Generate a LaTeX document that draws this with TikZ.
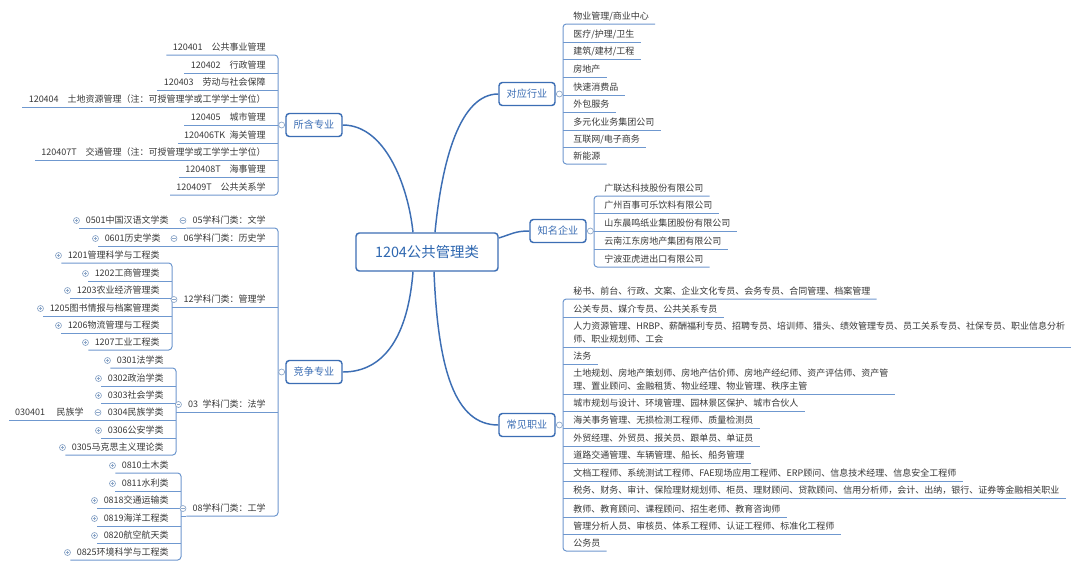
\documentclass[tikz,border=0pt]{standalone}
\usepackage{fontspec}
\setmainfont{Noto Sans CJK SC}
\usetikzlibrary{calc}
\definecolor{mblue}{HTML}{3C6EB4}
\definecolor{cblue}{HTML}{2E67B0}
\definecolor{ublue}{HTML}{6F98CF}
\definecolor{leafc}{HTML}{383838}
\definecolor{circc}{HTML}{8CA6C8}
\newcommand{\leaffont}{\fontsize{6.75pt}{9.4pt}\selectfont}
\newcommand{\branchfont}{\fontsize{7.6pt}{9pt}\selectfont}
\newcommand{\centerfont}{\fontsize{10.8pt}{13pt}\selectfont}
\begin{document}
\begin{tikzpicture}[x=0.75pt,y=-0.75pt,
  leafR/.style={anchor=south west, inner xsep=4.5pt, inner ysep=0pt, text depth=3.45pt, font=\leaffont, text=leafc},
  leafL/.style={leafR, anchor=south east},
  uline/.style={draw=ublue, line width=0.75pt, rounded corners=2.5pt},
  branch/.style={draw=mblue, line width=1.1pt, rounded corners=2.5pt, fill=white, text=mblue, font=\branchfont, minimum width=42pt, minimum height=17.25pt, inner sep=0pt},
  centerbox/.style={branch, font=\centerfont, minimum width=106.5pt, minimum height=28.5pt, text=cblue},
  conn/.style={draw=mblue, line width=1.1pt},
  expd/.style={circle, draw=circc, line width=0.5pt, minimum size=4.5pt, inner sep=0pt, fill=white},
  minusc/.style={expd, path picture={\draw[circc,line width=0.4pt] ($(path picture bounding box.west)+(1.2,0)$) -- ($(path picture bounding box.east)+(-1.2,0)$);}},
  plusc/.style={expd, path picture={\draw[circc,line width=0.4pt] ($(path picture bounding box.west)+(1.2,0)$) -- ($(path picture bounding box.east)+(-1.2,0)$) ($(path picture bounding box.north)+(0,1.2)$) -- ($(path picture bounding box.south)+(0,-1.2)$);}}
]
\fill[white] (0,0) rectangle (1080,568);
\useasboundingbox (0,0) rectangle (1080,568);

% ---------- centre and main branches ----------
\node[centerbox] (C) at (427,252) {1204公共管理类};
\node[branch] (B1) at (314,125) {所含专业};
\node[branch] (B2) at (527,94) {对应行业};
\node[branch] (B3) at (558,231) {知名企业};
\node[branch] (B4) at (527,425) {常见职业};
\node[branch] (B5) at (314,372) {竞争专业};

\draw[conn] (B1.east) .. controls (385,125) and (408,185) .. ($(C.north)+(-14,0)$);
\draw[conn] ($(C.north)+(8,0)$) .. controls (442,160) and (460,94) .. (B2.west);
\draw[conn] ($(C.east)+(0,-14)$) .. controls (512,234) and (515,231) .. (B3.west);
\draw[conn] ($(C.south)+(7,0)$) .. controls (438,370) and (455,425) .. (B4.west);
\draw[conn] ($(C.south)+(-14,0)$) .. controls (408,335) and (385,372) .. (B5.east);

% ---------- 所含专业 ----------
\coordinate (vS) at (278,125);
\node[leafL] (s1) at (272,55)  {120401\quad 公共事业管理};
\node[leafL] (s2) at (272,73)  {120402\quad 行政管理};
\node[leafL] (s3) at (272,90)  {120403\quad 劳动与社会保障};
\node[leafL] (s4) at (272,107) {120404\quad 土地资源管理（注：可授管理学或工学学士学位）};
\node[leafL] (s5) at (272,125) {120405\quad 城市管理};
\node[leafL] (s6) at (272,143) {120406TK\enspace 海关管理};
\node[leafL] (s7) at (272,160) {120407T\quad 交通管理（注：可授管理学或工学学士学位）};
\node[leafL] (s8) at (272,177) {120408T\quad 海事管理};
\node[leafL] (s9) at (272,195) {120409T\quad 公共关系学};
\draw[uline] (s1.south west) -- (vS |- s1.south) -- (vS |- s9.south) -- (s9.south west);
\foreach \n in {s2,s3,s4,s5,s6,s7,s8} \draw[uline] (vS |- \n.south) -- (\n.south west);
\draw[uline] (B1.west) -- (vS);
\node[expd] (eS) at ($(B1.west)!0.5!(vS)$) {};

% ---------- 竞争专业 ----------
\coordinate (vJ) at (278,372);
\node[leafL] (j05) at (272,228) {05学科门类：文学};
\node[leafL] (j06) at (272,246) {06学科门类：历史学};
\node[leafL] (j12) at (272,307) {12学科门类：管理学};
\node[leafL] (j03) at (272,412) {03\enspace 学科门类：法学};
\node[leafL] (j08) at (272,516) {08学科门类：工学};
\draw[uline] (j05.south west) -- (vJ |- j05.south) -- (vJ |- j08.south) -- (j08.south west);
\draw[uline] (B5.west) -- (vJ);
\node[expd] (eJ) at ($(B5.west)!0.5!(vJ)$) {};

\coordinate (v12) at (172,307);
\coordinate (v03) at (176,412);
\coordinate (v08) at (181,516);

\node[leafL] (l0501) at (175,228) {0501中国汉语文学类};
\node[leafL] (l0601) at (167,246) {0601历史学类};
\draw[uline] (j05.south west) -- (l0501.south west);
\draw[uline] (vJ |- j06.south) -- (l0601.south west);
\draw[uline] (vJ |- j12.south) -- (v12);
\draw[uline] (vJ |- j03.south) -- (v03);
\draw[uline] (j08.south west) -- (v08);

\node[leafL] (a1) at (166,263) {1201管理科学与工程类};
\node[leafL] (a2) at (166,281) {1202工商管理类};
\node[leafL] (a3) at (166,298) {1203农业经济管理类};
\node[leafL] (a4) at (166,316) {1205图书情报与档案管理类};
\node[leafL] (a5) at (166,333) {1206物流管理与工程类};
\node[leafL] (a6) at (166,350) {1207工业工程类};
\draw[uline] (a1.south west) -- (v12 |- a1.south) -- (v12 |- a6.south) -- (a6.south west);
\foreach \n in {a2,a3,a4,a5} \draw[uline] (v12 |- \n.south) -- (\n.south west);

\node[leafL] (b1) at (170,368) {0301法学类};
\node[leafL] (b2) at (170,386) {0302政治学类};
\node[leafL] (b3) at (170,403) {0303社会学类};
\node[leafL] (b4) at (170,420) {0304民族学类};
\node[leafL] (b5) at (170,438) {0306公安学类};
\node[leafL] (b6) at (170,455) {0305马克思主义理论类};
\draw[uline] (b1.south west) -- (v03 |- b1.south) -- (v03 |- b6.south) -- (b6.south west);
\foreach \n in {b2,b3,b4,b5} \draw[uline] (v03 |- \n.south) -- (\n.south west);
\node[leafL] (l030401) at (90,420) {030401\hspace{1.3em}民族学};
\draw[uline] (b4.south west) -- (l030401.south west);

\node[leafL] (d1) at (175,473) {0810土木类};
\node[leafL] (d2) at (175,491) {0811水利类};
\node[leafL] (d3) at (175,508) {0818交通运输类};
\node[leafL] (d4) at (175,526) {0819海洋工程类};
\node[leafL] (d5) at (175,543) {0820航空航天类};
\node[leafL] (d6) at (175,560) {0825环境科学与工程类};
\draw[uline] (d1.south west) -- (v08 |- d1.south) -- (v08 |- d6.south) -- (d6.south west);
\foreach \n in {d2,d3,d4,d5} \draw[uline] (v08 |- \n.south) -- (\n.south west);

% expand/collapse markers
\foreach \n in {j05,j06,j12,j03,j08,b4}
  \node[minusc] (m\n) at ($(\n.south west)+(-3.5,-7.5)$) {};
\foreach \n in {l0501,l0601,a1,a2,a3,a4,a5,a6,b1,b2,b3,b5,b6,d1,d2,d3,d4,d5,d6}
  \node[plusc] (p\n) at ($(\n.south west)+(-3,-7.5)$) {};

% ---------- 对应行业 ----------
\coordinate (vD) at (563,94);
\node[leafR] (o1) at (567,24)  {物业管理/商业中心};
\node[leafR] (o2) at (567,42)  {医疗/护理/卫生};
\node[leafR] (o3) at (567,59)  {建筑/建材/工程};
\node[leafR] (o4) at (567,77)  {房地产};
\node[leafR] (o5) at (567,95)  {快速消费品};
\node[leafR] (o6) at (567,112) {外包服务};
\node[leafR] (o7) at (567,130) {多元化业务集团公司};
\node[leafR] (o8) at (567,147) {互联网/电子商务};
\node[leafR] (o9) at (567,164) {新能源};
\draw[uline] (o1.south east) -- (vD |- o1.south) -- (vD |- o9.south) -- (o9.south east);
\foreach \n in {o2,o3,o4,o5,o6,o7,o8} \draw[uline] (vD |- \n.south) -- (\n.south east);
\draw[uline] (B2.east) -- (vD);
\node[expd] (eD) at ($(B2.east)!0.5!(vD)$) {};

% ---------- 知名企业 ----------
\coordinate (vK) at (594,231);
\node[leafR] (k1) at (598,196) {广联达科技股份有限公司};
\node[leafR] (k2) at (598,213) {广州百事可乐饮料有限公司};
\node[leafR] (k3) at (598,231) {山东晨鸣纸业集团股份有限公司};
\node[leafR] (k4) at (598,249) {云南江东房地产集团有限公司};
\node[leafR] (k5) at (598,267) {宁波亚虎进出口有限公司};
\draw[uline] (k1.south east) -- (vK |- k1.south) -- (vK |- k5.south) -- (k5.south east);
\foreach \n in {k2,k3,k4} \draw[uline] (vK |- \n.south) -- (\n.south east);
\draw[uline] (B3.east) -- (vK);
\node[expd] (eK) at ($(B3.east)!0.5!(vK)$) {};

% ---------- 常见职业 ----------
\coordinate (vC) at (563,425);
\node[leafR] (c1)  at (567,299) {秘书、前台、行政、文案、企业文化专员、会务专员、合同管理、档案管理};
\node[leafR] (c2)  at (567,317) {公关专员、媒介专员、公共关系专员};
\node[leafR] (c3)  at (567,347) {\vbox{\hbox{人力资源管理、HRBP、薪酬福利专员、招聘专员、培训师、猎头、绩效管理专员、员工关系专员、社保专员、职业信息分析}\hbox{师、职业规划师、工会}}};
\node[leafR] (c4)  at (567,364) {法务};
\node[leafR] (c5)  at (567,394) {\vbox{\hbox{土地规划、房地产策划师、房地产估价师、房地产经纪师、资产评估师、资产管}\hbox{理、置业顾问、金融租赁、物业经理、物业管理、秩序主管}}};
\node[leafR] (c6)  at (567,411) {城市规划与设计、环境管理、园林景区保护、城市合伙人};
\node[leafR] (c7)  at (567,428) {海关事务管理、无损检测工程师、质量检测员};
\node[leafR] (c8)  at (567,446) {外贸经理、外贸员、报关员、跟单员、单证员};
\node[leafR] (c9)  at (567,463) {道路交通管理、车辆管理、船长、船务管理};
\node[leafR] (c10) at (567,481) {文档工程师、系统测试工程师、FAE现场应用工程师、ERP顾问、信息技术经理、信息安全工程师};
\node[leafR] (c11) at (567,498) {税务、财务、审计、保险理财规划师、柜员、理财顾问、贷款顾问、信用分析师，会计、出纳，银行、证券等金融相关职业};
\node[leafR] (c12) at (567,517) {教师、教育顾问、课程顾问、招生老师、教育咨询师};
\node[leafR] (c13) at (567,534) {管理分析人员、审核员、体系工程师、认证工程师、标准化工程师};
\node[leafR] (c14) at (567,551) {公务员};
\draw[uline] (c1.south east) -- (vC |- c1.south) -- (vC |- c14.south) -- (c14.south east);
\foreach \n in {c2,c3,c4,c5,c6,c7,c8,c9,c10,c11,c12,c13} \draw[uline] (vC |- \n.south) -- (\n.south east);
\draw[uline] (B4.east) -- (vC);
\node[expd] (eC) at ($(B4.east)!0.5!(vC)$) {};
\end{tikzpicture}
\end{document}
